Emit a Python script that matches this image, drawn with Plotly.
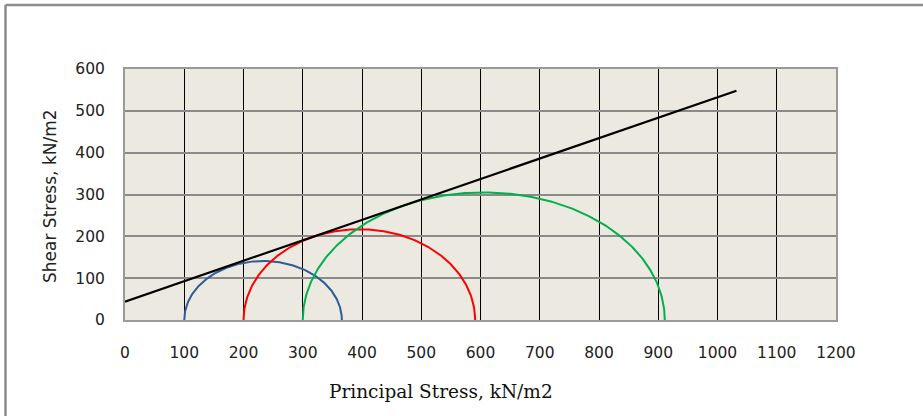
import numpy as np
import plotly.graph_objects as go

# Mohr circles: minor / major principal stress and peak shear (kN/m2)
sigma3 = [100, 200, 300]
sigma1 = [366, 591, 911]
tau_peak = [141, 217, 305]
circle_colors = ["#2E5C9A", "#FF0000", "#00B050"]

# Failure envelope end points
env_sigma = [0, 1032]
env_tau = [44, 548]

x_ticks = list(range(0, 1201, 100))
y_ticks = list(range(0, 601, 100))

W, H = 923, 416
ML, MR, MT, MB = 125, 87, 69, 96

fig = go.Figure()

theta = np.linspace(0, np.pi, 241)
for s3, s1, tp, col in zip(sigma3, sigma1, tau_peak, circle_colors):
    c = (s1 + s3) / 2
    r = (s1 - s3) / 2
    fig.add_trace(go.Scatter(
        x=c - r * np.cos(theta), y=tp * np.sin(theta),
        mode="lines", line=dict(color=col, width=2), showlegend=False,
        hoverinfo="skip"))

fig.add_trace(go.Scatter(
    x=env_sigma, y=env_tau, mode="lines",
    line=dict(color="black", width=2.2), showlegend=False, hoverinfo="skip"))

tick_font = dict(family="DejaVu Sans, sans-serif", size=15.5, color="#222")

fig.update_xaxes(
    range=[0, 1200], tickvals=x_ticks, ticktext=[str(v) for v in x_ticks],
    showgrid=True, gridcolor="black", gridwidth=1,
    zeroline=False, showline=True, linecolor="#9a9a9a", linewidth=2,
    mirror=True, ticks="", tickfont=tick_font, ticklabelstandoff=17)
fig.update_yaxes(
    range=[0, 600], tickvals=y_ticks, ticktext=[str(v) for v in y_ticks],
    showgrid=True, gridcolor="#8a8a8a", gridwidth=1.5,
    zeroline=False, showline=True, linecolor="#9a9a9a", linewidth=2,
    mirror=True, ticks="", tickfont=tick_font, ticklabelstandoff=15)

pw = W - ML - MR
ph = H - MT - MB

def px_to_paper_x(px):
    return (px - ML) / pw

def px_to_paper_y(py):
    return (H - MB - py) / ph

# Outer chart frame (left and top edges)
frame = dict(color="#8c8c8c", width=2.5)
fig.add_shape(type="line", xref="paper", yref="paper",
              x0=px_to_paper_x(5.5), x1=px_to_paper_x(5.5),
              y0=px_to_paper_y(5), y1=px_to_paper_y(H + 5), line=frame)
fig.add_shape(type="line", xref="paper", yref="paper",
              x0=px_to_paper_x(5.5), x1=px_to_paper_x(W + 5),
              y0=px_to_paper_y(5), y1=px_to_paper_y(5), line=frame)

fig.add_annotation(
    text="Principal Stress, kN/m2", xref="paper", yref="paper",
    x=px_to_paper_x(441), y=px_to_paper_y(391), showarrow=False,
    xanchor="center", yanchor="middle",
    font=dict(family="DejaVu Serif, serif", size=18.5, color="#111"))
fig.add_annotation(
    text="Shear Stress, kN/m2", xref="paper", yref="paper",
    x=px_to_paper_x(50), y=px_to_paper_y(196), showarrow=False, textangle=-90,
    xanchor="center", yanchor="middle",
    font=dict(family="DejaVu Sans, sans-serif", size=17, color="#222"))

fig.update_layout(
    width=W, height=H, margin=dict(l=ML, r=MR, t=MT, b=MB),
    paper_bgcolor="white", plot_bgcolor="#ECEAE0", showlegend=False)

fig.write_html("out.html")
